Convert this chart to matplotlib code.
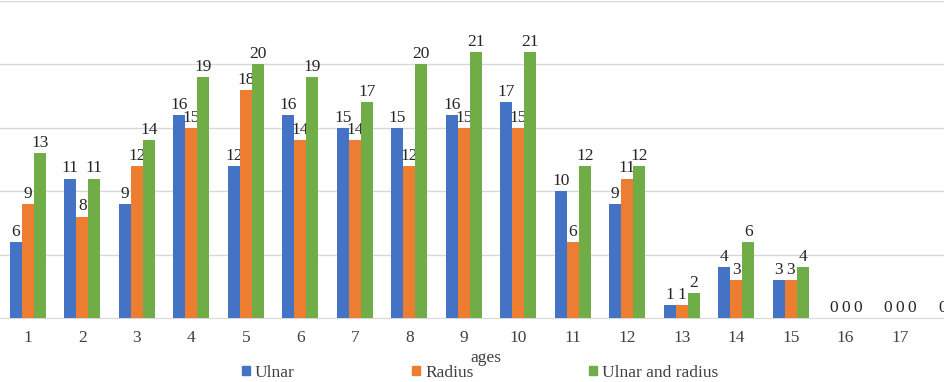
import matplotlib.pyplot as plt
from matplotlib.patches import Patch
import numpy as np

plt.rcParams['font.family'] = ['Liberation Serif', 'DejaVu Serif']

ages = [str(a) for a in range(1, 19)]
ulnar = [6, 11, 9, 16, 12, 16, 15, 15, 16, 17, 10, 9, 1, 4, 3, 0, 0, 0]
radius = [9, 8, 12, 15, 18, 14, 14, 12, 15, 15, 6, 11, 1, 3, 3, 0, 0, 0]
both = [13, 11, 14, 19, 20, 19, 17, 20, 21, 21, 12, 12, 2, 6, 4, 0, 0, 0]

series = [('Ulnar', ulnar, '#4472C4'),
          ('Radius', radius, '#ED7D31'),
          ('Ulnar and radius', both, '#70AD47')]

fs = 12.5
fig = plt.figure(figsize=(9.45, 3.82), dpi=100)
ax = fig.add_axes([0.0, 64 / 382, 1.0, 317 / 382])

x = np.arange(1, len(ages) + 1)
w = 0.22
for i, (name, vals, col) in enumerate(series):
    pos = x + (i - 1) * w
    ax.bar(pos, vals, width=w, color=col, zorder=3)
    for p, v in zip(pos, vals):
        ax.annotate(str(v), (p, v), xytext=(0, 1.5), textcoords='offset points',
                    ha='center', va='bottom', fontsize=fs, color='#262626')

ax.set_ylim(0, 25)
ax.set_xlim(0.49, 0.49 + 945 / 54.5)
ax.set_yticks([5, 10, 15, 20, 25])
ax.yaxis.grid(True, color='#d9d9d9', lw=1)
ax.set_axisbelow(True)
ax.set_yticklabels([])
ax.tick_params(axis='y', length=0)
ax.set_xticks(x[:17])
ax.set_xticklabels(ages[:17], fontsize=fs, color='#404040')
ax.tick_params(axis='x', length=0, pad=9)
for s in ['top', 'right', 'left']:
    ax.spines[s].set_visible(False)
ax.spines['bottom'].set_color('#d9d9d9')

fig.text(486 / 945, 1 - 358 / 382, 'ages', ha='center', va='center',
         fontsize=fs, color='#404040')

leg_x = [242, 412, 589]
for (name, vals, col), lx in zip(series, leg_x):
    fig.legend(handles=[Patch(color=col)], labels=[name], loc='center left',
               bbox_to_anchor=(lx / 945, 1 - 373 / 382), frameon=False,
               fontsize=fs, handlelength=0.45, handleheight=0.45,
               handletextpad=0.3, borderpad=0, borderaxespad=0,
               labelcolor='#404040')

fig.savefig('out.png', dpi=100)
